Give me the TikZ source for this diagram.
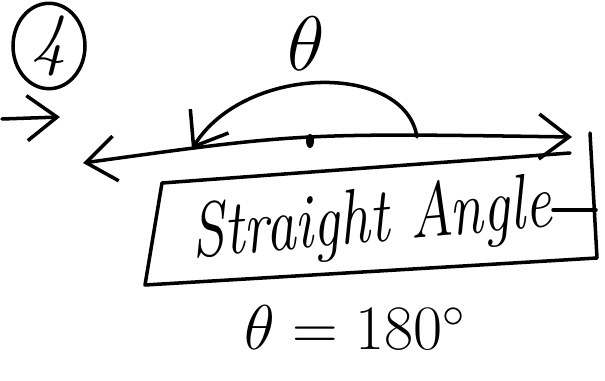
\documentclass[tikz,border=0pt]{standalone}
\usepackage{fix-cm}
\usepackage{graphicx}
\usetikzlibrary{arrows.meta, shapes.geometric}

\begin{document}
\begin{tikzpicture}[x=0.02cm, y=-0.02cm,
        pen/.style={line width=2pt, line cap=round, line join=round},
        barb/.style={-{Straight Barb[length=6mm, width=9mm]}},
        handtext/.style={inner sep=0pt, font=\fontsize{34}{40}\selectfont\itshape},
        numcircle/.style={ellipse, draw, line width=2pt, minimum width=1.44cm, minimum height=1.36cm, inner sep=0pt, font=\fontsize{40}{46}\selectfont\itshape}
    ]
        \useasboundingbox (0,0) rectangle (605,381);

        % Number and theta
        \node[numcircle] (num) at (49,46) {4};
        \node[handtext, font=\fontsize{44}{50}\selectfont] (theta) at (306,44) {$\theta$};

        % Small arrow on the left
        \coordinate (sstart) at (2,119);
        \coordinate (send) at (60,117);
        \draw[pen, barb] (sstart) -- (send);

        % Straight line with both ends
        \coordinate (lend) at (83,163);
        \coordinate (rend) at (572,137);
        \draw[pen, {Straight Barb[length=6mm, width=9mm]}-{Straight Barb[length=6mm, width=9mm]}]
            (lend) .. controls (300,133) .. (rend);
        \node[fill, ellipse, inner sep=0pt, minimum width=0.16cm, minimum height=0.28cm] (vertex) at (310,141) {};

        % Angle arc
        \coordinate (astart) at (417,137);
        \coordinate (aend) at (192,149);
        \draw[pen, barb] (astart) .. controls (405,62) and (245,64) .. (aend);

        % Box
        \coordinate (tl) at (162,183);
        \coordinate (tr) at (570,153);
        \coordinate (bl) at (145,285);
        \coordinate (br) at (597,258);
        \coordinate (rt) at (590,133);
        \coordinate (ue) at (553,210);
        \coordinate (ur) at (596,210);
        \draw[pen] (tr) -- (tl) -- (bl) -- (br) -- (rt);
        \draw[pen] (ue) -- (ur);

        % Texts
        \node[handtext, rotate=5, anchor=base] (name) at (373,242) {\scalebox{1}[1.3]{Straight Angle}};
        \node[handtext, anchor=base, font=\fontsize{36}{42}\selectfont] (value) at (355,350) {$\theta=180^\circ$};
    \end{tikzpicture}
\end{document}
